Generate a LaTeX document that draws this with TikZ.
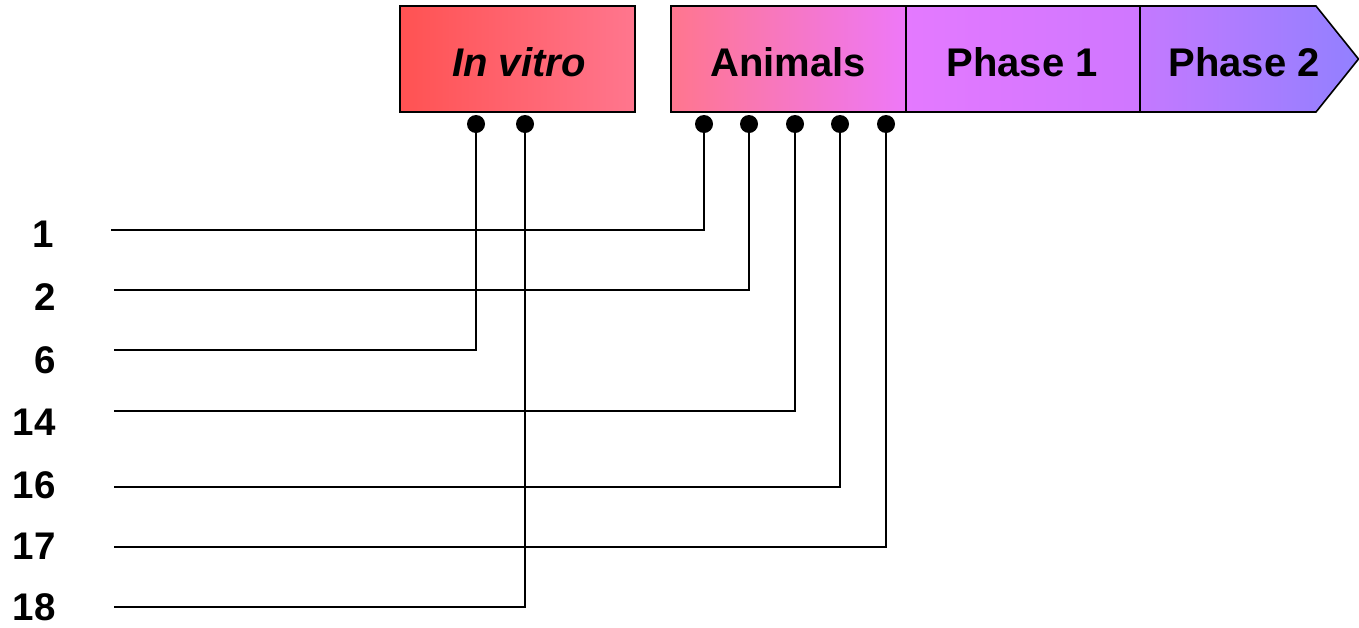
\documentclass[tikz,border=0pt]{standalone}
\usepackage{fontspec}
\setmainfont{Liberation Sans}
\begin{document}
\begin{tikzpicture}[x=1pt,y=-1pt,
  lbl/.style={font=\fontsize{40}{44}\selectfont\bfseries, inner sep=0pt},
  num/.style={font=\fontsize{38.5}{42}\selectfont\bfseries, inner sep=0pt, anchor=east},
  dotn/.style={circle, fill=black, minimum size=18pt, inner sep=0pt},
  conn/.style={line width=1.6pt, black},
  frame/.style={line width=1.6pt, black}]
\useasboundingbox (0,0) rectangle (1359,627);
% boxes
\shade[left color={rgb,255:red,255;green,82;blue,82}, right color={rgb,255:red,255;green,118;blue,142}] (400,6) rectangle (635,112);
\draw[frame] (400,6) rectangle (635,112);
\shade[left color={rgb,255:red,255;green,118;blue,142}, right color={rgb,255:red,238;green,120;blue,248}] (671,6) rectangle (906,112);
\shade[left color={rgb,255:red,228;green,121;blue,255}, right color={rgb,255:red,207;green,119;blue,255}] (906,6) rectangle (1140,112);
\shade[left color={rgb,255:red,196;green,121;blue,255}, right color={rgb,255:red,146;green,128;blue,255}] (1140,6) -- (1316,6) -- (1359,59) -- (1316,112) -- (1140,112) -- cycle;
\draw[frame] (671,6) -- (1316,6) -- (1358.5,59) -- (1316,112) -- (671,112) -- cycle;
\draw[frame] (906,6) -- (906,112);
\draw[frame] (1140,6) -- (1140,112);
% box labels
\node[lbl] (invitro) at (519,62) {\itshape In vitro};
\node[lbl] (animals) at (788,62) {Animals};
\node[lbl] (phase1) at (1022,62) {Phase 1};
\node[lbl] (phase2) at (1244,62) {Phase 2};
% dots
\node[dotn] (v1) at (476,124) {};
\node[dotn] (v2) at (525,124) {};
\node[dotn] (a1) at (704,124) {};
\node[dotn] (a2) at (749,124) {};
\node[dotn] (a3) at (795,124) {};
\node[dotn] (a4) at (840,124) {};
\node[dotn] (a5) at (886,124) {};
% numbers
\node[num] (n1) at (54,234) {1};
\node[num] (n2) at (56,297) {2};
\node[num] (n6) at (56,360) {6};
\node[num] (n14) at (56,422) {14};
\node[num] (n16) at (56,485) {16};
\node[num] (n17) at (56,546) {17};
\node[num] (n18) at (56,607) {18};
% line starts
\coordinate (s1) at (111,230);
\coordinate (s2) at (114,290);
\coordinate (s6) at (114,350);
\coordinate (s14) at (114,411);
\coordinate (s16) at (114,487);
\coordinate (s17) at (114,547);
\coordinate (s18) at (114,607);
% connectors
\draw[conn] (a1) |- (s1);
\draw[conn] (a2) |- (s2);
\draw[conn] (v1) |- (s6);
\draw[conn] (a3) |- (s14);
\draw[conn] (a4) |- (s16);
\draw[conn] (a5) |- (s17);
\draw[conn] (v2) |- (s18);
\end{tikzpicture}
\end{document}
